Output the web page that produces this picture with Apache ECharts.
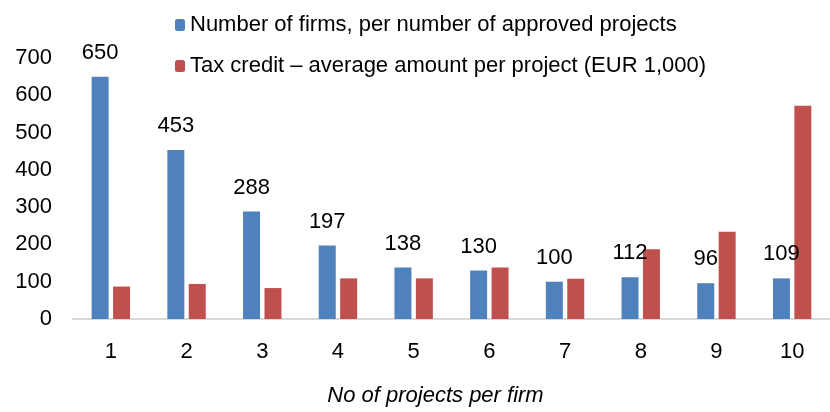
<!DOCTYPE html>
<html>
<head>
<meta charset="utf-8">
<script src="https://cdn.jsdelivr.net/npm/echarts@6/dist/echarts.min.js"></script>
<style>
  html, body { margin: 0; padding: 0; background: #fff; }
  #chart { width: 830px; height: 412px; }
</style>
</head>
<body>
<div id="chart"></div>
<script>
  // categories: number of approved projects per firm
  var categories = ['1', '2', '3', '4', '5', '6', '7', '8', '9', '10'];
  // number of firms
  var firms = [650, 453, 288, 197, 138, 130, 100, 112, 96, 109];
  // tax credit, average amount per project (EUR 1,000)
  var taxCredit = [87, 94, 83, 109, 109, 138, 108, 187, 234, 572];
  var yTicks = [0, 100, 200, 300, 400, 500, 600, 700];

  var font = "'Liberation Sans', Arial, sans-serif";
  var chart = echarts.init(document.getElementById('chart'));

  var option = {
    animation: false,
    textStyle: { fontFamily: font },
    legend: {
      orient: 'vertical',
      left: 170,
      top: 9,
      itemWidth: 10,
      itemHeight: 12,
      itemGap: 19,
      textStyle: { fontSize: 22, color: '#000', fontFamily: font },
      data: ['Number of firms, per number of approved projects',
             'Tax credit \u2013 average amount per project (EUR 1,000)']
    },
    grid: {
      left: 73,
      top: 58,
      width: 767,
      height: 267
    },
    xAxis: {
      type: 'category',
      data: categories,
      axisTick: { show: false },
      axisLine: { lineStyle: { color: '#d9d9d9', width: 2 } },
      axisLabel: { fontSize: 22, color: '#000', margin: 22, fontFamily: font },
      name: 'No of projects per firm',
      nameLocation: 'middle',
      nameGap: 66,
      nameTextStyle: { fontSize: 22, fontStyle: 'italic', color: '#000', padding: [0, 32, 0, 0], fontFamily: font }
    },
    yAxis: {
      type: 'value',
      min: yTicks[0],
      max: yTicks[yTicks.length - 1],
      interval: 100,
      splitLine: { show: false },
      axisLine: { show: false },
      axisTick: { show: false },
      axisLabel: { fontSize: 22, color: '#000', margin: 21, fontFamily: font }
    },
    series: [{
      name: 'Number of firms, per number of approved projects',
      type: 'bar',
      data: firms,
      barWidth: 17,
      barGap: '26%',
      itemStyle: { color: '#4F81BD' },
      label: {
        show: true,
        position: 'top',
        distance: 13,
        fontSize: 22,
        color: '#000',
        fontFamily: font
      }
    }, {
      name: 'Tax credit \u2013 average amount per project (EUR 1,000)',
      type: 'bar',
      data: taxCredit,
      barWidth: 17,
      itemStyle: { color: '#C0504D' }
    }]
  };
  chart.setOption(option);
</script>
</body>
</html>
